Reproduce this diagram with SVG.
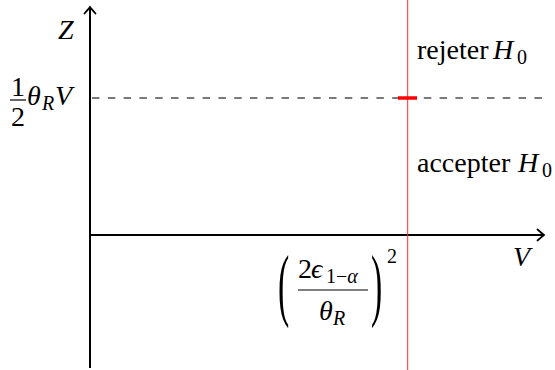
<svg xmlns="http://www.w3.org/2000/svg" width="555" height="370" viewBox="0 0 555 370">
<style>
text{font-family:'Liberation Serif',serif;font-size:28px;fill:#000}
.i{font-style:italic}
.s{font-size:20px}
.axis{stroke:#000;stroke-width:2;fill:none}
</style>
<defs>
<marker id="arr" markerUnits="userSpaceOnUse" markerWidth="16" markerHeight="16" viewBox="-8 -8 16 16" refX="0" refY="0" orient="auto" overflow="visible">
<path d="M-6.5,-5.5 Q-2,-1.5 0,0 Q-2,1.5 -6.5,5.5" fill="none" stroke="#000" stroke-width="1.8" stroke-linecap="round"/>
</marker>
</defs>
<rect width="555" height="370" fill="#fff"/>
<g id="connectors">
<line x1="92" y1="98" x2="545" y2="98" stroke="#7a7a7a" stroke-width="1.8" stroke-dasharray="7.5 8.3"/>
<line x1="90" y1="368" x2="90" y2="7" class="axis" marker-end="url(#arr)"/>
<line x1="89" y1="235" x2="544" y2="235" class="axis" marker-end="url(#arr)"/>
<line x1="407.7" y1="0" x2="407.7" y2="370" stroke="#ff2a2a" stroke-width="1"/>
<line x1="398" y1="98" x2="417" y2="98" stroke="#ff0000" stroke-width="3.5"/>
</g>
<g id="label-Z"><text class="i" x="58" y="39">Z</text></g>
<g id="label-threshold">
<text x="11" y="96">1</text>
<line x1="10" y1="100" x2="26" y2="100" stroke="#000" stroke-width="1.2"/>
<text x="11" y="126">2</text>
<text class="i" x="27" y="105">θ</text>
<text class="i s" x="42" y="110">R</text>
<text class="i" x="55" y="105">V</text>
</g>
<g id="label-rejeter">
<text x="417" y="59">rejeter</text>
<text class="i" x="493" y="59">H</text>
<text class="s" x="517" y="64">0</text>
</g>
<g id="label-accepter">
<text x="417" y="172">accepter</text>
<text class="i" x="518" y="172">H</text>
<text class="s" x="542" y="177">0</text>
</g>
<g id="label-V"><text class="i" x="513" y="266">V</text></g>
<g id="label-critical">
<text transform="translate(278,310.5) scale(1.3,3.1)" style="font-size:26px">(</text>
<text x="298" y="278">2</text>
<text class="i" x="311" y="278">ϵ</text>
<text class="s" x="326" y="283">1−<tspan class="i">α</tspan></text>
<line x1="298" y1="290" x2="368" y2="290" stroke="#000" stroke-width="1.2"/>
<text class="i" x="319" y="320">θ</text>
<text class="i s" x="333" y="325">R</text>
<text transform="translate(371,310.5) scale(1.3,3.1)" style="font-size:26px">)</text>
<text class="s" x="387" y="263">2</text>
</g>
</svg>
